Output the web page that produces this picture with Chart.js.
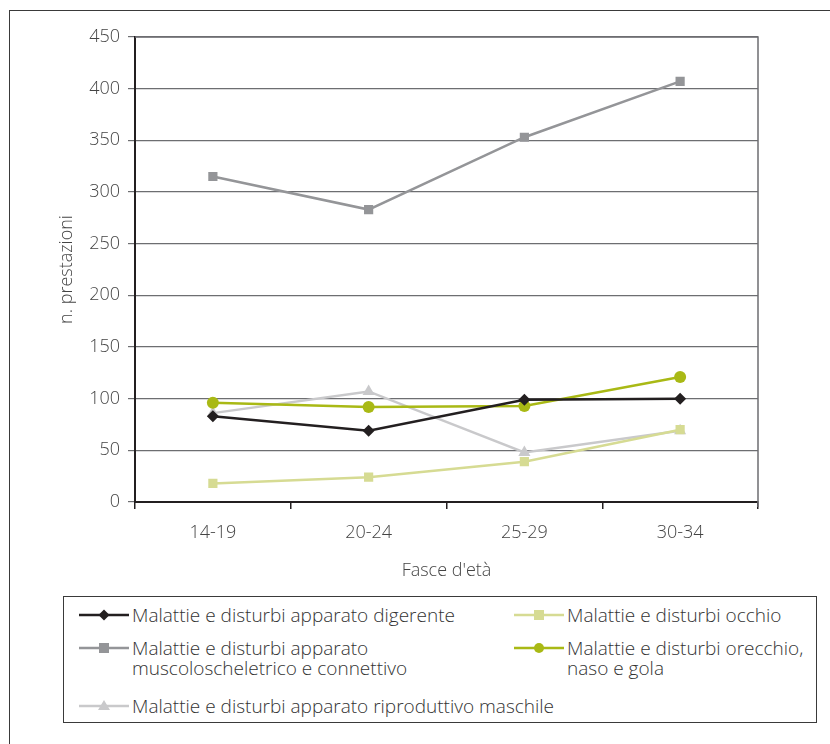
<!DOCTYPE html>
<html>
<head>
<meta charset="utf-8">
<script src="https://cdn.jsdelivr.net/npm/chart.js@4.4.0/dist/chart.umd.min.js"></script>
<style>
  html, body { margin:0; padding:0; background:#fff; width:830px; height:744px; overflow:hidden; }
  #frame { position:absolute; left:9px; top:10px; width:900px; height:800px; border-left:1.5px solid #3a3a3a; border-top:1.5px solid #3a3a3a; }
  #wrap { position:absolute; left:0; top:0; width:830px; height:590px; }
  #legend { position:absolute; left:63px; top:596px; width:754px; height:127px; border:1px solid #3a3a3a; box-sizing:border-box;
            font-family:"Open Sans", sans-serif; font-weight:300; font-size:19px; color:#333; }
  .item { position:absolute; display:flex; align-items:flex-start; line-height:20px; }
  .item svg { flex:none; margin-top:0px; margin-right:3px; }
</style>
</head>
<body>
<div id="frame"></div>
<div id="wrap"><canvas id="c" width="830" height="590"></canvas></div>
<div id="legend"></div>
<script>
// ---- data ----
const categories = ["14-19", "20-24", "25-29", "30-34"];
const digerente = [83, 69, 99, 100];
const occhio = [18, 24, 39, 70];
const muscolo = [315, 283, 353, 407];
const orecchio = [96, 92, 93, 121];
const riproduttivo = [86, 107, 48, 69];
const seriesNames = {
  digerente: "Malattie e disturbi apparato digerente",
  occhio: "Malattie e disturbi occhio",
  muscolo: ["Malattie e disturbi apparato", "muscoloscheletrico e connettivo"],
  orecchio: ["Malattie e disturbi orecchio,", "naso e gola"],
  riproduttivo: "Malattie e disturbi apparato riproduttivo maschile"
};
const yTicks = [0, 50, 100, 150, 200, 250, 300, 350, 400, 450];

const colors = {
  digerente: "#231f20",
  occhio: "#d6db93",
  muscolo: "#949598",
  orecchio: "#a9b915",
  riproduttivo: "#c9c9cb"
};
const styles = {
  digerente: { pointStyle: "rectRot", r: 6 },
  occhio: { pointStyle: "rect", r: 6.5 },
  muscolo: { pointStyle: "rect", r: 6.5 },
  orecchio: { pointStyle: "circle", r: 6 },
  riproduttivo: { pointStyle: "triangle", r: 7 }
};
const tickFont = { family: "Open Sans", size: 18, weight: 300 };

function ds(key, data) {
  return {
    label: Array.isArray(seriesNames[key]) ? seriesNames[key].join(" ") : seriesNames[key],
    data: data,
    borderColor: colors[key],
    backgroundColor: colors[key],
    pointBackgroundColor: colors[key],
    pointBorderColor: colors[key],
    pointBorderWidth: 0,
    borderWidth: 2.5,
    pointStyle: styles[key].pointStyle,
    pointRadius: styles[key].r,
    tension: 0
  };
}

const frameBorder = {
  id: "frameBorder",
  afterDatasetsDraw(chart) {
    const a = chart.chartArea, ctx = chart.ctx;
    ctx.save();
    ctx.strokeStyle = "#6d6e71";
    ctx.lineWidth = 1.5;
    ctx.beginPath();
    ctx.moveTo(a.left, a.top);
    ctx.lineTo(a.right, a.top);
    ctx.lineTo(a.right, a.bottom + 5);
    ctx.stroke();
    ctx.restore();
  }
};

new Chart(document.getElementById("c"), {
  type: "line",
  data: {
    labels: categories,
    datasets: [
      ds("digerente", digerente),
      ds("orecchio", orecchio),
      ds("occhio", occhio),
      ds("muscolo", muscolo),
      ds("riproduttivo", riproduttivo)
    ]
  },
  options: {
    responsive: false,
    animation: false,
    devicePixelRatio: 1,
    layout: { padding: { left: 0, right: 72, top: 37, bottom: 0 } },
    plugins: { legend: { display: false }, tooltip: { enabled: false } },
    scales: {
      x: {
        offset: true,
        afterFit(s) { s.height = 88; },
        grid: { offset: true, drawOnChartArea: false, drawTicks: true, tickLength: 7, color: "#231f20", lineWidth: 1.5 },
        border: { color: "#231f20", width: 2 },
        ticks: { color: "#444", font: tickFont, padding: 13 },
        title: { display: true, text: "Fasce d'età", color: "#444", font: tickFont, padding: { bottom: 8 } }
      },
      y: {
        min: 0, max: 450,
        afterFit(s) { s.width = 135; },
        afterBuildTicks(s) { s.ticks = yTicks.map(v => ({ value: v })); },
        grid: { color: "#6d6e71", lineWidth: 1.2, tickLength: 7, tickColor: "#6d6e71" },
        border: { color: "#231f20", width: 2 },
        ticks: { color: "#444", font: tickFont, padding: 8 },
        title: { display: true, text: "n. prestazioni", color: "#444", font: tickFont, padding: { top: 56 } }
      }
    }
  },
  plugins: [frameBorder]
});

// ---- legend (HTML) ----
function marker(key) {
  const c = colors[key], st = styles[key].pointStyle;
  let shape = "";
  if (st === "rectRot") shape = `<polygon points="25,4.5 30.5,10 25,15.5 19.5,10" fill="${c}"/>`;
  else if (st === "rect") shape = `<rect x="20" y="5" width="10" height="10" fill="${c}"/>`;
  else if (st === "circle") shape = `<circle cx="25" cy="10" r="5" fill="${c}"/>`;
  else shape = `<polygon points="25,4 31,14 19,14" fill="${c}"/>`;
  return `<svg width="50" height="20"><line x1="0" y1="10" x2="50" y2="10" stroke="${c}" stroke-width="2.5"/>${shape}</svg>`;
}
const legendLayout = [
  { key: "digerente", x: 15, y: 8 },
  { key: "occhio", x: 450, y: 8 },
  { key: "muscolo", x: 15, y: 41 },
  { key: "orecchio", x: 450, y: 41 },
  { key: "riproduttivo", x: 15, y: 99 }
];
const leg = document.getElementById("legend");
legendLayout.forEach(it => {
  const name = seriesNames[it.key];
  const text = Array.isArray(name) ? name.join("<br>") : name;
  const d = document.createElement("div");
  d.className = "item";
  d.style.left = it.x + "px";
  d.style.top = it.y + "px";
  d.innerHTML = marker(it.key) + `<span>${text}</span>`;
  leg.appendChild(d);
});
</script>
</body>
</html>
